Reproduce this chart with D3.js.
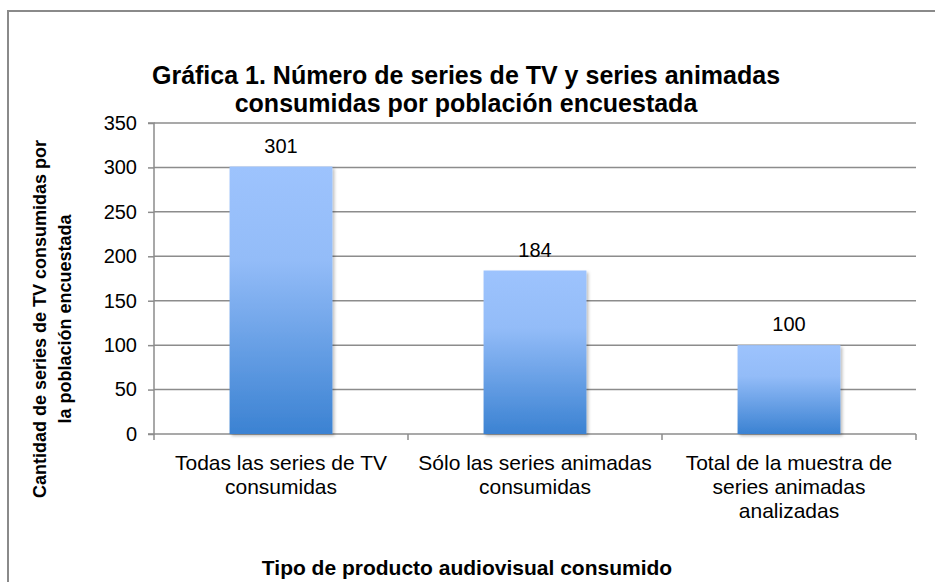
<!DOCTYPE html>
<html lang="es">
<head>
  <meta charset="UTF-8">
  <title>Gráfica 1</title>
  <style>
    body {
      margin: 0;
      padding: 0;
      background: #fff;
      font-family: "Liberation Sans", Arial, sans-serif;
    }
    svg text {
      fill: #000;
    }
  </style>
</head>
<body>
  <svg id="chart" width="935" height="582"></svg>
  <script src="https://d3js.org/d3.v7.min.js"></script>
  <script>
    const categories = [
      ['Todas las series de TV', 'consumidas'],
      ['Sólo las series animadas', 'consumidas'],
      ['Total de la muestra de', 'series animadas', 'analizadas']
    ];
    const values = [301, 184, 100];
    const yTicks = [0, 50, 100, 150, 200, 250, 300, 350];

    const titleLines = [
      'Gráfica 1. Número de series de TV y series animadas',
      'consumidas por población encuestada'
    ];
    const yTitleLines = ['Cantidad de series de TV consumidas por', 'la población encuestada'];
    const xTitle = 'Tipo de producto audiovisual consumido';

    const svg = d3.select('#chart');
    const margin = { top: 123, right: 19, bottom: 148, left: 154 };
    const width = 935 - margin.left - margin.right;
    const height = 582 - margin.top - margin.bottom;

    // outer frame
    svg.append('rect')
      .attr('x', 8)
      .attr('y', 11)
      .attr('width', 940)
      .attr('height', 600)
      .attr('fill', 'none')
      .attr('stroke', '#8a8a8a')
      .attr('stroke-width', 2);

    const defs = svg.append('defs');
    const grad = defs.append('linearGradient')
      .attr('id', 'barGrad')
      .attr('x1', 0).attr('y1', 0).attr('x2', 0).attr('y2', 1);
    grad.append('stop').attr('offset', '0%').attr('stop-color', '#9dc3fd');
    grad.append('stop').attr('offset', '35%').attr('stop-color', '#93bcf8');
    grad.append('stop').attr('offset', '100%').attr('stop-color', '#3b82d2');

    const shadow = defs.append('filter').attr('id', 'shadow')
      .attr('x', '-10%').attr('y', '-10%').attr('width', '130%').attr('height', '130%');
    shadow.append('feDropShadow')
      .attr('dx', 2).attr('dy', 2).attr('stdDeviation', 1.5)
      .attr('flood-color', '#000').attr('flood-opacity', 0.25);

    const g = svg.append('g')
      .attr('transform', `translate(${margin.left}, ${margin.top})`);

    const xScale = d3.scaleBand()
      .domain(d3.range(categories.length))
      .range([0, width])
      .paddingInner(0.595)
      .paddingOuter(0.2975);

    const yScale = d3.scaleLinear()
      .domain([0, 350])
      .range([height, 0]);

    // gridlines
    g.append('g')
      .selectAll('line')
      .data(yTicks.filter(d => d > 0))
      .enter()
      .append('line')
      .attr('x1', 0)
      .attr('x2', width)
      .attr('y1', d => yScale(d))
      .attr('y2', d => yScale(d))
      .attr('stroke', '#8c8c8c')
      .attr('stroke-width', 1.5);

    // y axis
    const yAxis = d3.axisLeft(yScale)
      .tickValues(yTicks)
      .tickSize(6)
      .tickPadding(11);
    const yg = g.append('g').call(yAxis);
    yg.select('.domain').attr('stroke', '#8c8c8c').attr('stroke-width', 1.5)
      .attr('d', `M-6,0H0V${height}H-6`);
    yg.selectAll('.tick line').attr('stroke', '#8c8c8c').attr('stroke-width', 1.5);
    yg.selectAll('.tick text')
      .attr('font-family', '"Liberation Sans", Arial, sans-serif')
      .attr('font-size', 20)
      .attr('fill', '#000');

    // x axis baseline and boundary ticks
    const xg = g.append('g').attr('transform', `translate(0, ${height})`);
    xg.append('line')
      .attr('x1', 0).attr('x2', width)
      .attr('stroke', '#8c8c8c').attr('stroke-width', 1.5);
    const step = xScale.step();
    xg.selectAll('.bound')
      .data(d3.range(categories.length + 1))
      .enter()
      .append('line')
      .attr('x1', d => d * step)
      .attr('x2', d => d * step)
      .attr('y1', 0)
      .attr('y2', 6)
      .attr('stroke', '#8c8c8c')
      .attr('stroke-width', 1.5);

    // category labels
    xg.selectAll('.cat')
      .data(categories)
      .enter()
      .append('text')
      .attr('text-anchor', 'middle')
      .attr('font-size', 21)
      .attr('transform', (d, i) => `translate(${xScale(i) + xScale.bandwidth() / 2}, 0)`)
      .each(function(d) {
        d3.select(this).selectAll('tspan')
          .data(d)
          .enter()
          .append('tspan')
          .attr('x', 0)
          .attr('y', (t, j) => 36 + j * 24)
          .text(t => t);
      });

    // bars
    g.selectAll('.bar')
      .data(values)
      .enter()
      .append('rect')
      .attr('class', 'bar')
      .attr('x', (d, i) => xScale(i))
      .attr('y', d => yScale(d))
      .attr('width', xScale.bandwidth())
      .attr('height', d => height - yScale(d))
      .attr('fill', 'url(#barGrad)')
      .attr('filter', 'url(#shadow)');

    // value labels
    g.selectAll('.val')
      .data(values)
      .enter()
      .append('text')
      .attr('x', (d, i) => xScale(i) + xScale.bandwidth() / 2)
      .attr('y', d => yScale(d) - 14)
      .attr('text-anchor', 'middle')
      .attr('font-size', 20)
      .text(d => d);

    // chart title
    svg.append('text')
      .attr('text-anchor', 'middle')
      .attr('font-size', 25)
      .attr('font-weight', 'bold')
      .selectAll('tspan')
      .data(titleLines)
      .enter()
      .append('tspan')
      .attr('x', 466)
      .attr('y', (d, i) => 84 + i * 28)
      .text(d => d);

    // y axis title
    svg.append('text')
      .attr('text-anchor', 'middle')
      .attr('font-size', 18)
      .attr('font-weight', 'bold')
      .attr('transform', 'translate(0, 319) rotate(-90)')
      .selectAll('tspan')
      .data(yTitleLines)
      .enter()
      .append('tspan')
      .attr('x', 0)
      .attr('y', (d, i) => 46 + i * 25)
      .text(d => d);

    // x axis title
    svg.append('text')
      .attr('x', 467)
      .attr('y', 575)
      .attr('text-anchor', 'middle')
      .attr('font-size', 21)
      .attr('font-weight', 'bold')
      .text(xTitle);
  </script>
</body>
</html>
